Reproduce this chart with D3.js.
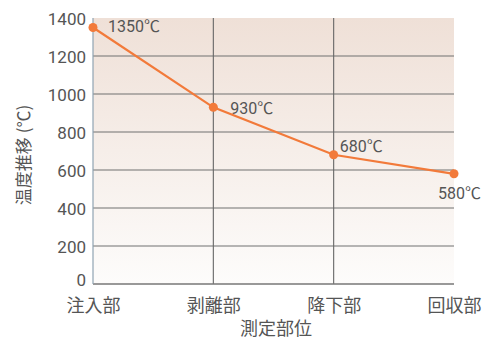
<!DOCTYPE html>
<html><head><meta charset="utf-8">
<script src="https://cdn.jsdelivr.net/npm/d3@7"></script>
<style>
html,body{margin:0;padding:0;background:#fff;}
text{font-family:"Noto Sans CJK JP","Noto Sans",sans-serif;fill:#555;}
.num{font-family:Roboto,"Noto Sans CJK JP",sans-serif;}
</style></head>
<body><svg id="c" width="483" height="342"></svg>
<script>
const categories = ["注入部", "剥離部", "降下部", "回収部"];
const temps = [1350, 930, 680, 580];
const valueLabels = ["1350℃", "930℃", "680℃", "580℃"];
const yTicks = [0, 200, 400, 600, 800, 1000, 1200, 1400];

const svg = d3.select("#c");
const plotL = 93, plotR = 454, plotT = 18, plotB = 284;

const x = d3.scalePoint().domain(categories).range([plotL, plotR]);
const y = d3.scaleLinear().domain([0, 1400]).range([plotB, plotT]);

const defs = svg.append("defs");
const grad = defs.append("linearGradient").attr("id", "bg").attr("x1", 0).attr("y1", 0).attr("x2", 0).attr("y2", 1);
grad.append("stop").attr("offset", "0%").attr("stop-color", "#efe0d7");
grad.append("stop").attr("offset", "50%").attr("stop-color", "#f6eee9");
grad.append("stop").attr("offset", "100%").attr("stop-color", "#fdfcfb");

svg.append("rect").attr("x", plotL).attr("y", plotT).attr("width", plotR - plotL).attr("height", plotB - plotT).attr("fill", "url(#bg)");

// horizontal grid
svg.append("g").selectAll("line").data(yTicks.filter(d => d > 0 && d < 1400)).join("line")
  .attr("x1", plotL).attr("x2", plotR).attr("y1", d => y(d)).attr("y2", d => y(d))
  .attr("stroke", "#707070").attr("stroke-width", 1.1);
// vertical grid at inner categories
svg.append("g").selectAll("line").data(categories.slice(1, 3)).join("line")
  .attr("x1", d => x(d)).attr("x2", d => x(d)).attr("y1", plotT).attr("y2", plotB)
  .attr("stroke", "#666").attr("stroke-width", 1.1);
// baseline
svg.append("line").attr("x1", plotL).attr("x2", plotR).attr("y1", plotB).attr("y2", plotB)
  .attr("stroke", "#777").attr("stroke-width", 1.3);
// y axis line
svg.append("line").attr("x1", plotL).attr("x2", plotL).attr("y1", plotT).attr("y2", plotB)
  .attr("stroke", "#8fa3b3").attr("stroke-width", 1.2);

// y tick labels
const yAxis = d3.axisLeft(y).tickValues(yTicks).tickFormat(d3.format("d")).tickSize(0).tickPadding(7);
const gy = svg.append("g").attr("transform", `translate(${plotL},0)`).call(yAxis);
gy.select(".domain").remove();
gy.selectAll("text").attr("class", "num").style("font-size", "17px").attr("fill", "#555")
  .attr("dy", d => d === 0 ? "0.1em" : "0.36em").attr("font-family", null);

// x category labels
const xAxis = d3.axisBottom(x).tickSize(0).tickPadding(15);
const gx = svg.append("g").attr("transform", `translate(0,${plotB})`).call(xAxis);
gx.select(".domain").remove();
gx.selectAll("text").style("font-size", "18px").attr("fill", "#555").attr("font-family", null);

// axis titles
svg.append("text").attr("x", 276).attr("y", 335).attr("text-anchor", "middle")
  .style("font-size", "18px").text("測定部位");
svg.append("text").attr("transform", "translate(30,155) rotate(-90)").attr("text-anchor", "middle")
  .style("font-size", "17px").text("温度推移 (℃)");

// line and points
const pts = categories.map((c, i) => [x(c), y(temps[i])]);
svg.append("path").attr("d", d3.line()(pts)).attr("fill", "none")
  .attr("stroke", "#f27a3a").attr("stroke-width", 2.2);
svg.append("g").selectAll("circle").data(pts).join("circle")
  .attr("cx", d => d[0]).attr("cy", d => d[1]).attr("r", 4.5).attr("fill", "#f27a3a");

// value labels
const offs = [[15, 4, "start"], [17, 7, "start"], [6, -3, "start"], [27, 25, "end"]];
svg.append("g").selectAll("text").data(pts).join("text")
  .attr("class", "num")
  .attr("x", (d, i) => d[0] + offs[i][0]).attr("y", (d, i) => d[1] + offs[i][1])
  .attr("text-anchor", (d, i) => offs[i][2])
  .style("font-size", "16px")
  .text((d, i) => valueLabels[i]);
</script></body></html>
